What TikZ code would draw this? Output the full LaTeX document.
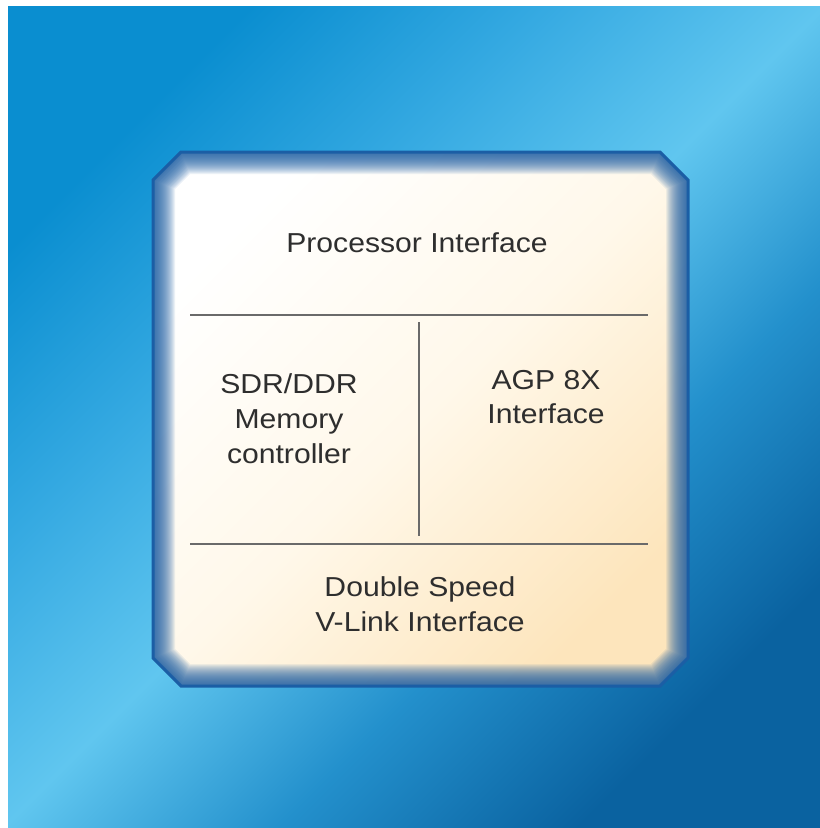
\documentclass[tikz,border=0pt]{standalone}
\usepackage{fontspec}
\newfontfamily\blockfont{Liberation Sans}[FakeStretch=1.1]
\usetikzlibrary{positioning}

\definecolor{bgdeep}{HTML}{0A62A0}
\definecolor{bgmid}{HTML}{2390CC}
\definecolor{bglight}{HTML}{60C6EF}
\definecolor{bgupper}{HTML}{36AAE2}
\definecolor{bgtop}{HTML}{0A8ED0}
\definecolor{edgeblue}{HTML}{1B5EA5}
\definecolor{cream}{HTML}{FDE5BC}
\definecolor{paper}{HTML}{FFF8EA}
\definecolor{inkgrey}{HTML}{2E2E2E}
\definecolor{rulegrey}{HTML}{6A6A6A}

% diagonal sweep for the backdrop and the chip face
\pgfdeclareverticalshading{bgsweep}{100bp}{color(0bp)=(bgdeep); color(25bp)=(bgdeep); color(38bp)=(bgmid); color(50bp)=(bglight); color(62bp)=(bgupper); color(75bp)=(bgtop); color(100bp)=(bgtop)}
\pgfdeclareverticalshading{chipface}{100bp}{color(0bp)=(cream); color(25bp)=(cream); color(50bp)=(paper); color(75bp)=(white); color(100bp)=(white)}

% outline of the chip, corners cut off
\newcommand\chipoutline{(181,152) -- (660,152) -- (688,180) -- (688,658) -- (660,686) -- (181,686) -- (153,658) -- (153,180) -- cycle}

\begin{document}
\begin{tikzpicture}[x=1bp, y=-1bp,
    blocklabel/.style={inner sep=0pt, align=center, text=inkgrey,
        font=\blockfont\fontsize{27.5}{35}\selectfont},
    divider/.style={draw=rulegrey, line width=2.5bp},
    chipedge/.style={draw=edgeblue, line width=3bp, line join=miter}]
    \useasboundingbox (0,0) rectangle (820,828);
    \fill[white] (0,0) rectangle (820,828);
    \shade[shading=bgsweep, shading angle=45] (8,6) rectangle (820,828);

    % chip body with a soft blue bevel inside the rim
    \shade[shading=chipface, shading angle=45] \chipoutline;
    \begin{scope}
        \clip \chipoutline;
        \foreach \w in {2,4,...,44}
            \draw[draw=edgeblue, line width=\w bp, opacity=0.08] \chipoutline;
    \end{scope}
    \draw[chipedge] \chipoutline;

    % partitions
    \coordinate (topL) at (190,315);
    \coordinate (topR) at (648,315);
    \coordinate (botL) at (190,544);
    \coordinate (botR) at (648,544);
    \coordinate (midT) at (419,322);
    \coordinate (midB) at (419,536);
    \draw[divider] (topL) -- (topR);
    \draw[divider] (botL) -- (botR);
    \draw[divider] (midT) -- (midB);

    \node[blocklabel] (proc) at (417,243) {Processor Interface};
    \node[blocklabel] (mem) at (289,419) {SDR/DDR\\Memory\\controller};
    \node[blocklabel] (agp) at (546,397) {AGP 8X\\Interface};
    \node[blocklabel] (vlink) at (420,604) {Double Speed\\V-Link Interface};
\end{tikzpicture}
\end{document}
